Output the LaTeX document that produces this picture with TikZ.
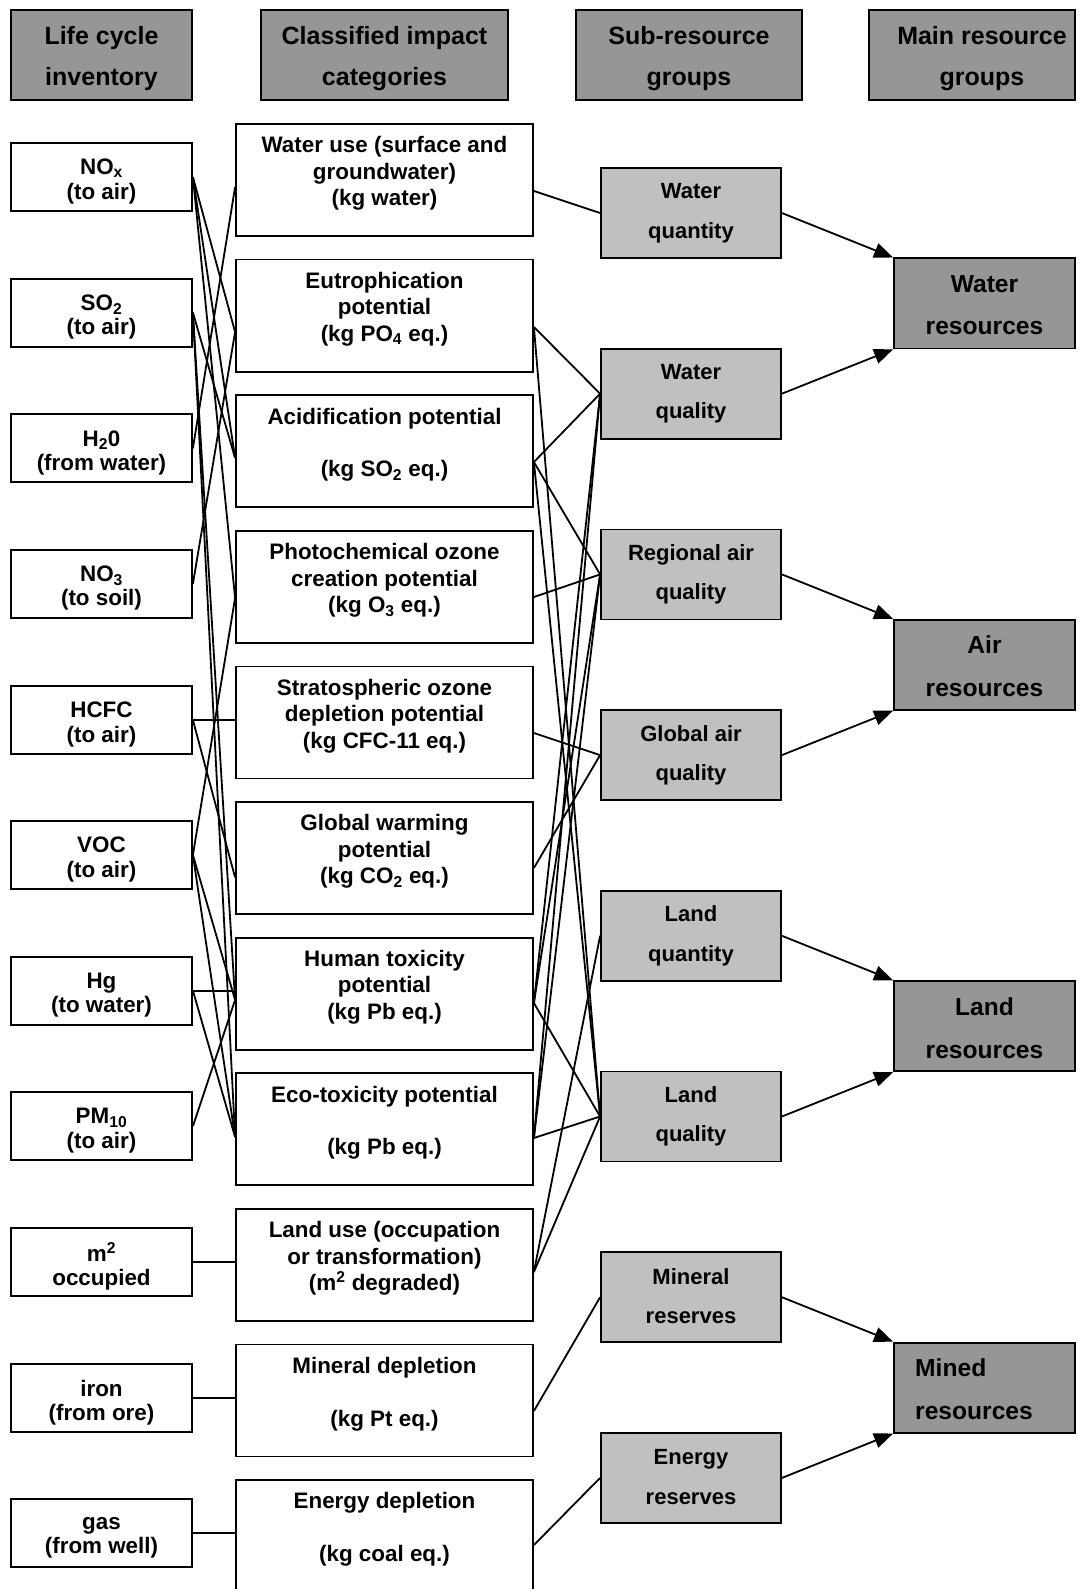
\documentclass[tikz,border=0pt]{standalone}
\usepackage{fontspec}
\setmainfont{Liberation Sans}
\usetikzlibrary{arrows.meta}
\definecolor{hdrgray}{RGB}{150,150,150}
\definecolor{subgray}{RGB}{192,192,192}
\tikzset{
  hdr/.style={draw=black, line width=1.6pt, fill=hdrgray, minimum height=90pt, inner sep=0pt},
  invbox/.style={draw=black, line width=1.8pt, fill=white, minimum width=181pt, minimum height=68pt, inner sep=0pt},
  impbox/.style={draw=black, line width=1.8pt, fill=white, minimum width=297pt, minimum height=112pt, inner sep=0pt},
  subbox/.style={draw=black, line width=1.8pt, fill=subgray, minimum width=180pt, minimum height=90pt, inner sep=0pt},
  mainbox/.style={draw=black, line width=1.8pt, fill=hdrgray, minimum width=181pt, minimum height=90pt, inner sep=0pt},
  hdrtxt/.style={align=center, inner sep=0pt, font=\bfseries\fontsize{25}{41}\selectfont},
  invtxt/.style={align=center, inner sep=0pt, font=\bfseries\fontsize{22.4}{24.3}\selectfont},
  imptxt/.style={align=center, inner sep=0pt, font=\bfseries\fontsize{22.4}{26.4}\selectfont},
  subtxt/.style={align=center, inner sep=0pt, font=\bfseries\fontsize{22}{39.5}\selectfont},
  maintxt/.style={align=center, inner sep=0pt, font=\bfseries\fontsize{24.6}{42.6}\selectfont},
  link/.style={line width=1.8pt},
  arr/.style={line width=1.8pt, -{Triangle[length=19pt,width=15pt]}}
}
\begin{document}
\begin{tikzpicture}[x=1pt,y=-1pt]
\useasboundingbox (0,0) rectangle (1086,1589);

% ---------- headers ----------
\node[hdr, minimum width=181pt] (h1) at (101.5,55) {};
\node[hdrtxt] (h1t) at ([yshift=-3.6pt]h1.center) {Life cycle\\inventory};
\node[hdr, minimum width=247pt] (h2) at (384.5,55) {};
\node[hdrtxt] (h2t) at ([yshift=-3.6pt]h2.center) {Classified impact\\categories};
\node[hdr, minimum width=226pt] (h3) at (689,55) {};
\node[hdrtxt] (h3t) at ([yshift=-3.6pt]h3.center) {Sub-resource\\groups};
\node[hdr, minimum width=206pt] (h4) at (972,55) {};
\node[hdrtxt] (h4t) at ([xshift=10pt,yshift=-3.6pt]h4.center) {Main resource\\groups};

% ---------- life cycle inventory ----------
\node[invbox] (nox) at (101.5,177) {};
\node[invtxt] (noxt) at ([yshift=-4.5pt]nox.center) {NO\textsubscript{x}\\(to air)};
\node[invbox] (so2) at (101.5,312.6) {};
\node[invtxt] (so2t) at ([yshift=-4.5pt]so2.center) {SO\textsubscript{2}\\(to air)};
\node[invbox] (h2o) at (101.5,448.2) {};
\node[invtxt] (h2ot) at ([yshift=-4.5pt]h2o.center) {H\textsubscript{2}0\\(from water)};
\node[invbox] (no3) at (101.5,583.8) {};
\node[invtxt] (no3t) at ([yshift=-4.5pt]no3.center) {NO\textsubscript{3}\\(to soil)};
\node[invbox] (hcfc) at (101.5,720) {};
\node[invtxt] (hcfct) at ([yshift=-4.5pt]hcfc.center) {HCFC\\(to air)};
\node[invbox] (voc) at (101.5,855) {};
\node[invtxt] (voct) at ([yshift=-4.5pt]voc.center) {VOC\\(to air)};
\node[invbox] (hg) at (101.5,990.6) {};
\node[invtxt] (hgt) at ([yshift=-4.5pt]hg.center) {Hg\\(to water)};
\node[invbox] (pm) at (101.5,1126.2) {};
\node[invtxt] (pmt) at ([yshift=-4.5pt]pm.center) {PM\textsubscript{10}\\(to air)};
\node[invbox] (m2) at (101.5,1261.8) {};
\node[invtxt] (m2t) at ([yshift=-4.5pt]m2.center) {m\textsuperscript{2}\\occupied};
\node[invbox] (iron) at (101.5,1398) {};
\node[invtxt] (iront) at ([yshift=-4.5pt]iron.center) {iron\\(from ore)};
\node[invbox] (gas) at (101.5,1533) {};
\node[invtxt] (gast) at ([yshift=-4.5pt]gas.center) {gas\\(from well)};

% ---------- classified impact categories ----------
\node[impbox] (wu) at (384.5,180) {};
\node[imptxt] (wut) at ([yshift=6.5pt]wu.center) {Water use (surface and\\groundwater)\\(kg water)};
\node[impbox] (eut) at (384.5,315.6) {};
\node[imptxt] (eutt) at ([yshift=6.5pt]eut.center) {Eutrophication\\potential\\(kg PO\textsubscript{4} eq.)};
\node[impbox] (acid) at (384.5,451.2) {};
\node[imptxt] (acidt) at ([yshift=6.5pt]acid.center) {Acidification potential\\\mbox{}\\(kg SO\textsubscript{2} eq.)};
\node[impbox] (poc) at (384.5,586.8) {};
\node[imptxt] (poct) at ([yshift=6.5pt]poc.center) {Photochemical ozone\\creation potential\\(kg O\textsubscript{3} eq.)};
\node[impbox] (sod) at (384.5,722.4) {};
\node[imptxt] (sodt) at ([yshift=6.5pt]sod.center) {Stratospheric ozone\\depletion potential\\(kg CFC-11 eq.)};
\node[impbox] (gw) at (384.5,858) {};
\node[imptxt] (gwt) at ([yshift=6.5pt]gw.center) {Global warming\\potential\\(kg CO\textsubscript{2} eq.)};
\node[impbox] (ht) at (384.5,993.6) {};
\node[imptxt] (htt) at ([yshift=6.5pt]ht.center) {Human toxicity\\potential\\(kg Pb eq.)};
\node[impbox] (eco) at (384.5,1129.2) {};
\node[imptxt] (ecot) at ([yshift=6.5pt]eco.center) {Eco-toxicity potential\\\mbox{}\\(kg Pb eq.)};
\node[impbox] (lu) at (384.5,1264.8) {};
\node[imptxt] (lut) at ([yshift=6.5pt]lu.center) {Land use (occupation\\or transformation)\\(m\textsuperscript{2} degraded)};
\node[impbox] (md) at (384.5,1400.4) {};
\node[imptxt] (mdt) at ([yshift=6.5pt]md.center) {Mineral depletion\\\mbox{}\\(kg Pt eq.)};
\node[impbox] (ed) at (384.5,1536) {};
\node[imptxt] (edt) at ([yshift=6.5pt]ed.center) {Energy depletion\\\mbox{}\\(kg coal eq.)};

% ---------- sub-resource groups ----------
\node[subbox] (wqn) at (691,213) {};
\node[subtxt] (wqnt) at (wqn.center) {Water\\quantity};
\node[subbox] (wql) at (691,393.7) {};
\node[subtxt] (wqlt) at (wql.center) {Water\\quality};
\node[subbox] (raq) at (691,574.4) {};
\node[subtxt] (raqt) at (raq.center) {Regional air\\quality};
\node[subbox] (gaq) at (691,755.1) {};
\node[subtxt] (gaqt) at (gaq.center) {Global air\\quality};
\node[subbox] (lqn) at (691,935.8) {};
\node[subtxt] (lqnt) at (lqn.center) {Land\\quantity};
\node[subbox] (lql) at (691,1116.5) {};
\node[subtxt] (lqlt) at (lql.center) {Land\\quality};
\node[subbox] (mr) at (691,1297.2) {};
\node[subtxt] (mrt) at ([yshift=1pt]mr.center) {Mineral\\reserves};
\node[subbox] (er) at (691,1477.9) {};
\node[subtxt] (ert) at ([yshift=1pt]er.center) {Energy\\reserves};

% ---------- main resource groups ----------
\node[mainbox] (wr) at (984.5,303.4) {};
\node[maintxt] (wrt) at ([yshift=-1.7pt]wr.center) {Water\\resources};
\node[mainbox] (ar) at (984.5,664.8) {};
\node[maintxt] (art) at ([yshift=-1.7pt]ar.center) {Air\\resources};
\node[mainbox] (lr) at (984.5,1026.2) {};
\node[maintxt] (lrt) at ([yshift=-1.7pt]lr.center) {Land\\resources};
\node[mainbox] (mres) at (984.5,1387.6) {};
\node[maintxt, align=left, anchor=west] (mrest) at ([yshift=-1.7pt]mres.center -| 915,0) {Mined\\resources};

% ---------- inventory -> impact categories ----------
\draw[link] (nox.east) -- ([yshift=-16.4pt]eut.west);
\draw[link] (nox.east) -- ([yshift=-6.8pt]acid.west);
\draw[link] (nox.east) -- ([yshift=-11.2pt]poc.west);
\draw[link] (so2.east) -- ([yshift=-6.8pt]acid.west);
\draw[link] (so2.east) -- ([yshift=-6.4pt]ht.west);
\draw[link] (so2.east) -- ([yshift=-7.8pt]eco.west);
\draw[link] (h2o.east) -- ([yshift=-7pt]wu.west);
\draw[link] (no3.east) -- ([yshift=-16.4pt]eut.west);
\draw[link] (hcfc.east) -- (hcfc.east -| sod.west);
\draw[link] (hcfc.east) -- ([yshift=-19.5pt]gw.west);
\draw[link] (voc.east) -- ([yshift=-11.2pt]poc.west);
\draw[link] (voc.east) -- ([yshift=-6.4pt]ht.west);
\draw[link] (voc.east) -- ([yshift=-7.8pt]eco.west);
\draw[link] (hg.east) -- (hg.east -| ht.west);
\draw[link] (hg.east) -- ([yshift=-7.8pt]eco.west);
\draw[link] (pm.east) -- ([yshift=-6.4pt]ht.west);
\draw[link] (m2.east) -- (m2.east -| lu.west);
\draw[link] (iron.east) -- (iron.east -| md.west);
\draw[link] (gas.east) -- (gas.east -| ed.west);

% ---------- impact categories -> sub-resource groups ----------
\draw[link] ([yshift=-11pt]wu.east) -- (wqn.west);
\draw[link] ([yshift=-11.4pt]eut.east) -- (wql.west);
\draw[link] ([yshift=-11.4pt]eut.east) -- (lql.west);
\draw[link] ([yshift=-10.8pt]acid.east) -- (wql.west);
\draw[link] ([yshift=-10.8pt]acid.east) -- (raq.west);
\draw[link] ([yshift=-10.8pt]acid.east) -- (lql.west);
\draw[link] ([yshift=-10.2pt]poc.east) -- (raq.west);
\draw[link] ([yshift=-10.6pt]sod.east) -- (gaq.west);
\draw[link] ([yshift=-10pt]gw.east) -- (gaq.west);
\draw[link] ([yshift=-9.4pt]ht.east) -- (wql.west);
\draw[link] ([yshift=-9.4pt]ht.east) -- (raq.west);
\draw[link] ([yshift=-9.4pt]ht.east) -- (lql.west);
\draw[link] ([yshift=-8.8pt]eco.east) -- (wql.west);
\draw[link] ([yshift=-8.8pt]eco.east) -- (raq.west);
\draw[link] ([yshift=-8.8pt]eco.east) -- (lql.west);
\draw[link] ([yshift=-7.2pt]lu.east) -- (lqn.west);
\draw[link] ([yshift=-7.2pt]lu.east) -- (lql.west);
\draw[link] ([yshift=-10.6pt]md.east) -- (mr.west);
\draw[link] ([yshift=-9pt]ed.east) -- (er.west);

% ---------- sub-resource -> main resource groups ----------
\draw[arr] (wqn.east) -- (wr.north west);
\draw[arr] (wql.east) -- (wr.south west);
\draw[arr] (raq.east) -- (ar.north west);
\draw[arr] (gaq.east) -- (ar.south west);
\draw[arr] (lqn.east) -- (lr.north west);
\draw[arr] (lql.east) -- (lr.south west);
\draw[arr] (mr.east) -- (mres.north west);
\draw[arr] (er.east) -- (mres.south west);
\end{tikzpicture}
\end{document}
